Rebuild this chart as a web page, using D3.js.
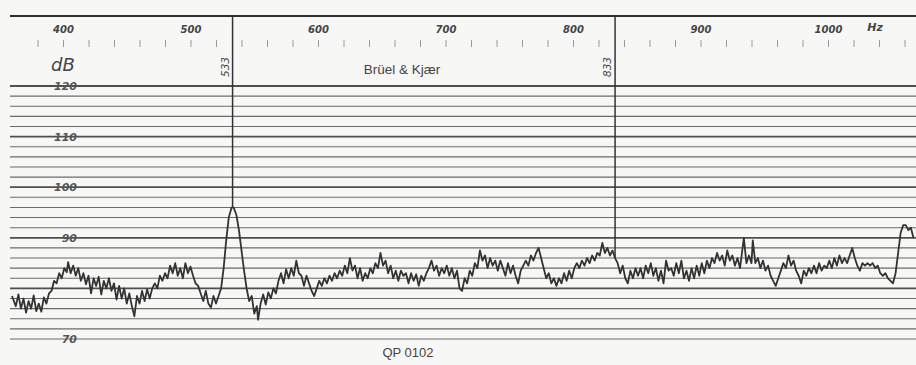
<!DOCTYPE html>
<html>
<head>
<meta charset="utf-8">
<script src="https://cdn.jsdelivr.net/npm/d3@7"></script>
<style>
  html, body { margin: 0; padding: 0; background: #f7f7f5; }
  svg { display: block; }
</style>
</head>
<body>
<svg id="chart" width="916" height="365"></svg>
<script>
// Frequency axis labels (Hz) and minor ticks
const freqLabels = [400, 500, 600, 700, 800, 900, 1000];
const freqMinor = [380, 400, 420, 440, 460, 480, 500, 520, 540, 560, 580, 600, 620, 640, 660, 680, 700,
  720, 740, 760, 780, 800, 820, 840, 860, 880, 900, 920, 940, 960, 980, 1000, 1020, 1040, 1060];
// Level axis labels (dB) and chart-paper rulings
const levelLabels = [120, 110, 100, 90, 70];
const levelLines = [70, 72, 74, 76, 78, 80, 82, 84, 86, 88, 90, 92, 94, 96, 98, 100,
  102, 104, 106, 108, 110, 112, 114, 116, 118, 120];
const levelMajor = [80, 90, 100, 110, 120];
// Marked frequencies
const markers = [533, 833];

// Recorded spectrum: [frequency Hz, level dB]
const spectrum = [
  [360, 78.5], [363, 76.5], [365, 78.8], [367, 76.0], [369, 78.0], [371, 75.2], [373, 77.5], [375, 76.0],
  [377, 78.6], [379, 75.5], [381, 77.0], [383, 75.4], [385, 78.2], [387, 77.0], [389, 79.0], [391, 79.5],
  [393, 81.5], [395, 81.0], [397, 83.0], [399, 82.0], [401, 84.0], [403, 83.2], [404, 85.2], [406, 83.0],
  [408, 84.5], [410, 82.5], [412, 84.0], [414, 81.5], [416, 83.0], [418, 80.8], [420, 82.5], [422, 79.0],
  [424, 82.0], [426, 80.5], [428, 82.3], [430, 78.8], [432, 81.5], [434, 80.0], [436, 82.0], [438, 79.5],
  [440, 81.0], [442, 77.8], [444, 80.5], [446, 78.0], [448, 80.0], [450, 77.0], [452, 79.0], [454, 76.5],
  [456, 74.5], [458, 78.5], [460, 77.0], [462, 79.5], [464, 77.5], [466, 79.8], [468, 78.0], [470, 80.0],
  [472, 81.0], [474, 80.0], [476, 82.5], [478, 81.5], [480, 83.0], [482, 82.0], [484, 84.5], [486, 83.0],
  [488, 85.0], [490, 82.5], [492, 84.0], [494, 82.0], [496, 85.0], [498, 83.0], [500, 84.3], [502, 82.5],
  [504, 81.0], [506, 80.5], [508, 79.0], [510, 77.5], [512, 79.5], [514, 77.0], [516, 76.2], [518, 78.5],
  [520, 77.0], [522, 78.5], [524, 80.0], [526, 84.0], [528, 89.5], [530, 94.0], [532, 95.8], [533, 96.1],
  [534, 95.9], [536, 94.5], [538, 91.5], [540, 87.5], [542, 83.5], [544, 80.0], [546, 77.5], [548, 78.5],
  [550, 75.0], [552, 76.5], [553, 73.8], [555, 77.0], [557, 78.8], [559, 76.8], [561, 79.2], [563, 78.0],
  [565, 80.0], [567, 79.0], [569, 81.5], [571, 83.0], [573, 81.0], [575, 83.8], [577, 82.0], [579, 84.0],
  [581, 82.5], [583, 85.5], [585, 83.0], [587, 82.5], [589, 80.5], [591, 82.5], [593, 81.0], [595, 79.5],
  [597, 78.5], [599, 80.0], [601, 81.5], [603, 80.5], [605, 82.0], [607, 81.0], [609, 82.5], [611, 81.5],
  [613, 83.0], [615, 82.0], [617, 83.5], [619, 82.5], [621, 84.5], [623, 83.0], [625, 86.0], [627, 83.5],
  [629, 84.5], [631, 82.0], [633, 84.0], [635, 81.5], [637, 83.0], [639, 82.0], [641, 84.0], [643, 83.0],
  [645, 85.0], [647, 84.0], [649, 87.0], [651, 84.5], [653, 85.5], [655, 83.0], [657, 84.5], [659, 82.0],
  [661, 83.5], [663, 81.5], [665, 83.5], [667, 82.5], [669, 83.0], [671, 81.0], [673, 83.0], [675, 81.5],
  [677, 82.8], [679, 80.5], [681, 82.5], [683, 81.5], [685, 83.0], [687, 84.0], [689, 85.5], [691, 83.5],
  [693, 84.5], [695, 82.5], [697, 84.0], [699, 83.0], [701, 84.5], [703, 82.5], [705, 84.0], [707, 82.0],
  [709, 83.5], [711, 80.0], [713, 79.5], [715, 82.0], [717, 81.0], [719, 83.5], [721, 82.5], [723, 85.0],
  [725, 84.0], [727, 87.5], [729, 85.5], [731, 86.5], [733, 84.0], [735, 86.0], [737, 84.5], [739, 85.5],
  [741, 83.5], [743, 85.5], [745, 84.0], [747, 82.5], [749, 85.0], [751, 83.0], [753, 84.5], [755, 82.5],
  [757, 81.0], [759, 83.5], [761, 84.5], [763, 85.5], [765, 84.5], [767, 86.5], [769, 85.5], [771, 87.0],
  [773, 88.0], [775, 86.0], [777, 84.0], [779, 82.0], [781, 83.0], [783, 81.0], [785, 82.0], [787, 80.5],
  [789, 82.0], [791, 81.0], [793, 83.0], [795, 81.5], [797, 83.5], [799, 82.0], [801, 84.0], [803, 85.0],
  [805, 84.0], [807, 85.5], [809, 84.5], [811, 86.0], [813, 85.0], [815, 86.5], [817, 85.5], [819, 87.0],
  [821, 86.5], [823, 89.0], [825, 87.0], [827, 88.0], [829, 86.5], [831, 87.5], [833, 86.0], [835, 85.0],
  [837, 83.0], [839, 84.5], [841, 82.0], [843, 81.0], [845, 83.5], [847, 82.0], [849, 84.0], [851, 82.5],
  [853, 84.0], [855, 82.0], [857, 84.5], [859, 83.0], [861, 85.0], [863, 82.5], [865, 84.0], [867, 81.5],
  [869, 83.5], [871, 81.0], [873, 85.5], [875, 83.5], [877, 84.0], [879, 82.5], [881, 85.0], [883, 83.0],
  [885, 85.5], [887, 82.0], [889, 83.5], [891, 81.5], [893, 84.0], [895, 82.0], [897, 84.5], [899, 82.5],
  [901, 85.0], [903, 83.0], [905, 85.5], [907, 84.0], [909, 86.0], [911, 85.0], [913, 87.0], [915, 85.5],
  [917, 86.5], [919, 84.5], [921, 87.5], [923, 85.5], [925, 86.5], [927, 84.5], [929, 86.0], [931, 84.0],
  [934, 90.0], [936, 85.0], [938, 86.5], [940, 85.0], [941, 89.5], [943, 85.0], [945, 86.0], [947, 84.0],
  [949, 85.5], [951, 83.5], [953, 84.5], [955, 82.5], [957, 81.5], [959, 80.5], [961, 82.0], [963, 83.5],
  [965, 85.0], [967, 84.0], [969, 86.5], [971, 84.5], [973, 85.5], [975, 83.5], [977, 82.5], [979, 81.0],
  [981, 83.5], [983, 82.5], [985, 84.0], [987, 83.0], [989, 84.5], [991, 83.0], [993, 85.0], [995, 83.5],
  [997, 84.5], [999, 84.0], [1001, 85.5], [1003, 84.0], [1005, 86.0], [1007, 84.5], [1009, 86.5], [1011, 85.0],
  [1013, 86.0], [1015, 85.0], [1017, 86.5], [1019, 88.0], [1021, 86.0], [1023, 84.5], [1025, 83.5], [1027, 85.0],
  [1029, 84.5], [1031, 85.0], [1033, 84.5], [1035, 85.0], [1037, 84.0], [1039, 84.5], [1041, 83.0], [1043, 82.5],
  [1045, 83.0], [1047, 82.0], [1049, 81.5], [1051, 81.0], [1053, 83.0], [1055, 87.0], [1057, 91.0], [1059, 92.5],
  [1061, 92.5], [1063, 91.5], [1065, 92.0], [1067, 90.0]
];

const svg = d3.select('#chart');
const ink = '#3c3c3c';

const x = d3.scaleLinear().domain([400, 1000]).range([63, 828]);
const y = d3.scaleLinear().domain([70, 120]).range([339, 86]);

// Paper rulings
svg.append('g')
  .selectAll('line')
  .data(levelLines)
  .join('line')
  .attr('x1', 10)
  .attr('x2', 916)
  .attr('y1', d => y(d))
  .attr('y2', d => y(d))
  .attr('stroke', ink)
  .attr('stroke-opacity', d => levelMajor.includes(d) ? 0.9 : 0.75)
  .attr('stroke-width', d => levelMajor.includes(d) ? 1.8 : 1.1);

// Top border of the paper
svg.append('line')
  .attr('x1', 10).attr('x2', 916)
  .attr('y1', 16).attr('y2', 16)
  .attr('stroke', '#2e2e2e')
  .attr('stroke-width', 2.2);

// Frequency labels
const xAxis = svg.append('g')
  .attr('transform', 'translate(0,16)')
  .call(d3.axisBottom(x).tickValues(freqLabels).tickSize(0).tickPadding(10).tickFormat(d3.format('d')));
xAxis.select('.domain').remove();
xAxis.selectAll('text')
  .attr('font-family', 'DejaVu Sans')
  .attr('font-style', 'italic')
  .attr('font-weight', 'bold')
  .attr('font-size', 10)
  .attr('fill', '#444');

// Minor frequency ticks
const minorAxis = svg.append('g')
  .attr('transform', 'translate(0,40)')
  .call(d3.axisBottom(x).tickValues(freqMinor).tickSize(7).tickFormat(''));
minorAxis.select('.domain').remove();
minorAxis.selectAll('line').attr('stroke', '#999').attr('stroke-width', 1);

svg.append('text')
  .attr('x', 875).attr('y', 31)
  .attr('text-anchor', 'middle')
  .attr('font-family', 'DejaVu Sans')
  .attr('font-style', 'italic')
  .attr('font-weight', 'bold')
  .attr('font-size', 11)
  .attr('fill', '#444')
  .text('Hz');

// Level labels
const yAxis = svg.append('g')
  .attr('transform', 'translate(80,0)')
  .call(d3.axisLeft(y).tickValues(levelLabels).tickSize(0).tickPadding(3));
yAxis.select('.domain').remove();
yAxis.selectAll('text')
  .attr('font-family', 'DejaVu Sans')
  .attr('font-style', 'italic')
  .attr('font-weight', 'bold')
  .attr('font-size', 11)
  .attr('fill', '#555');

svg.append('text')
  .attr('x', 63).attr('y', 71)
  .attr('text-anchor', 'middle')
  .attr('font-family', 'DejaVu Sans')
  .attr('font-style', 'italic')
  .attr('font-size', 18)
  .attr('fill', '#444')
  .text('dB');

svg.append('text')
  .attr('x', 402).attr('y', 74)
  .attr('text-anchor', 'middle')
  .attr('font-family', 'Liberation Sans')
  .attr('font-size', 13.5)
  .attr('fill', '#444')
  .text('Brüel & Kjær');

svg.append('text')
  .attr('x', 408).attr('y', 357)
  .attr('text-anchor', 'middle')
  .attr('font-family', 'Liberation Sans')
  .attr('font-size', 13)
  .attr('fill', '#444')
  .text('QP 0102');

// Marker lines from the top border down to the trace
const levelAt = f => spectrum.find(d => d[0] === f)[1];
svg.append('g')
  .selectAll('line')
  .data(markers)
  .join('line')
  .attr('x1', d => x(d)).attr('x2', d => x(d))
  .attr('y1', 17)
  .attr('y2', d => y(levelAt(d)))
  .attr('stroke', '#333')
  .attr('stroke-width', 1.5);

svg.append('g')
  .selectAll('text')
  .data(markers)
  .join('text')
  .attr('transform', d => `translate(${x(d) - 4},67) rotate(-90)`)
  .attr('text-anchor', 'middle')
  .attr('font-family', 'DejaVu Sans')
  .attr('font-style', 'italic')
  .attr('font-size', 10.5)
  .attr('fill', '#444')
  .text(d => d);

// Recorded trace
svg.append('path')
  .datum(spectrum)
  .attr('fill', 'none')
  .attr('stroke', '#333')
  .attr('stroke-width', 1.8)
  .attr('stroke-linejoin', 'round')
  .attr('d', d3.line().x(d => x(d[0])).y(d => y(d[1])));
</script>
</body>
</html>
